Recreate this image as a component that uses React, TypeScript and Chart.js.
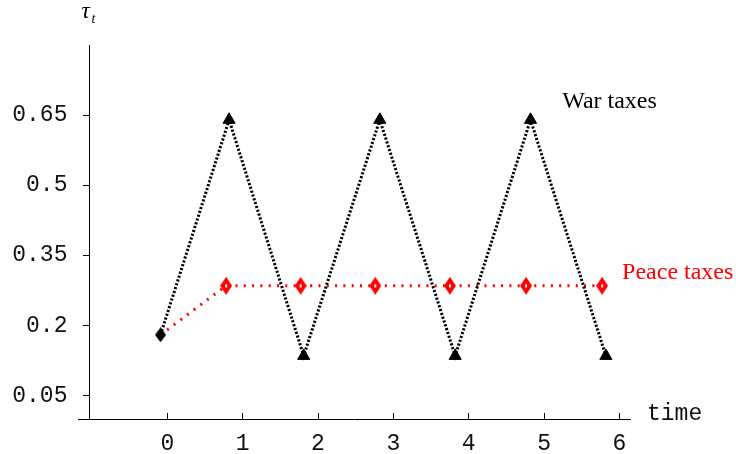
import React, { useEffect, useRef } from "react";
import { Chart, registerables } from "chart.js";

Chart.register(...registerables);

// ---- data ----
const warTime = [-0.09, 0.82, 1.81, 2.82, 3.82, 4.82, 5.82];
const warTax = [0.18, 0.64, 0.135, 0.64, 0.135, 0.64, 0.135];
const peaceTime = [-0.09, 0.78, 1.77, 2.76, 3.75, 4.76, 5.77];
const peaceTax = [0.18, 0.285, 0.285, 0.285, 0.285, 0.285, 0.285];
const xTickValues = [0, 1, 2, 3, 4, 5, 6];
const yTickValues = [0.05, 0.2, 0.35, 0.5, 0.65];
const yTickLabels = ["0.05", "0.2", "0.35", "0.5", "0.65"];
const warLabel = "War taxes";
const peaceLabel = "Peace taxes";
const xAxisTitle = "time";

const Y_LABEL_SHIFT = 22;

function makeDiamond(w: number, h: number, fill: string, inner: boolean) {
  const c = document.createElement("canvas");
  c.width = w;
  c.height = h;
  const ctx = c.getContext("2d")!;
  ctx.fillStyle = fill;
  ctx.beginPath();
  ctx.moveTo(w / 2, 0);
  ctx.lineTo(w, h / 2);
  ctx.lineTo(w / 2, h);
  ctx.lineTo(0, h / 2);
  ctx.closePath();
  ctx.fill();
  if (inner) {
    ctx.fillStyle = "#fff";
    ctx.fillRect(w / 2 - 1, h / 2 - 1.5, 2, 3);
  }
  return c;
}

const labelsPlugin = {
  id: "labelsPlugin",
  afterDraw(chart: any) {
    const { ctx, scales } = chart;
    const xs = scales.x;
    const ys = scales.y;
    ctx.save();
    ctx.textAlign = "left";
    ctx.textBaseline = "alphabetic";
    const yAxisX = xs.getPixelForValue(-1.033);
    ctx.fillStyle = "#000";
    ctx.font = 'italic 23px "Liberation Serif"';
    ctx.fillText("\u03c4", yAxisX - 8, 18);
    ctx.font = 'italic 14px "Liberation Serif"';
    ctx.fillText("t", yAxisX + 2, 23);
    ctx.font = '23px "Liberation Mono"';
    ctx.fillStyle = "#111";
    ctx.fillText(xAxisTitle, chart.chartArea.right + 17, chart.chartArea.bottom + 1);
    ctx.font = '24px "Liberation Serif"';
    ctx.fillStyle = "#000";
    ctx.fillText(warLabel, xs.getPixelForValue(5.24), ys.getPixelForValue(0.666));
    ctx.fillStyle = "#ff0000";
    ctx.fillText(peaceLabel, xs.getPixelForValue(6.035), ys.getPixelForValue(0.3));
    ctx.restore();
  },
};

export default function App() {
  const ref = useRef<HTMLCanvasElement | null>(null);

  useEffect(() => {
    if (!ref.current) return;
    const blackDiamond = makeDiamond(11, 15, "#000", false);
    const redDiamond = makeDiamond(12, 18, "#ff0000", true);
    const warStyles = warTime.map((_, i) => (i === 0 ? blackDiamond : "triangle"));
    const peaceRadius = peaceTime.map((_, i) => (i === 0 ? 0 : 7));

    const chart = new Chart(ref.current, {
      type: "scatter",
      data: {
        datasets: [
          {
            label: warLabel,
            data: warTime.map((x, i) => ({ x, y: warTax[i] })),
            showLine: true,
            borderColor: "#000",
            borderWidth: 3,
            borderDash: [2.2, 1.8],
            tension: 0,
            pointStyle: warStyles as any,
            pointRadius: 7,
            pointBackgroundColor: "#000",
            pointBorderColor: "#000",
            pointBorderWidth: 1,
            order: 0,
          },
          {
            label: peaceLabel,
            data: peaceTime.map((x, i) => ({ x, y: peaceTax[i] })),
            showLine: true,
            borderColor: "#ff0000",
            borderWidth: 3,
            borderDash: [2, 6.3],
            tension: 0,
            pointStyle: redDiamond as any,
            pointRadius: peaceRadius,
            pointBackgroundColor: "#ff0000",
            pointBorderColor: "#ff0000",
            order: 1,
          },
        ],
      },
      options: {
        animation: false,
        responsive: false,
        devicePixelRatio: 1,
        layout: { padding: { left: 78, right: 106, top: 45, bottom: 0 } },
        plugins: { legend: { display: false }, tooltip: { enabled: false } },
        scales: {
          x: {
            type: "linear",
            position: "bottom",
            min: -1.185,
            max: 6.14,
            afterBuildTicks: (s: any) => {
              s.ticks = xTickValues.map((v) => ({ value: v }));
            },
            afterFit: (s: any) => {
              s.height = 35;
            },
            grid: {
              drawOnChartArea: false,
              drawTicks: true,
              tickLength: -6,
              color: "#000",
              tickColor: "#000",
            },
            border: { display: true, color: "#000", width: 1 },
            ticks: {
              padding: 17,
              color: "#111",
              autoSkip: false,
              maxRotation: 0,
              font: { family: '"Liberation Mono"', size: 23 },
              callback: (v: any) => String(v),
            },
          },
          y: {
            type: "linear",
            position: { x: -1.033 } as any,
            min: 0,
            max: 0.8,
            afterBuildTicks: (s: any) => {
              s.ticks = yTickValues.map((v) => ({ value: v }));
            },
            afterUpdate: (s: any) => {
              if (!s.__shifted) {
                const orig = s.drawLabels.bind(s);
                s.drawLabels = (area: any) => {
                  s.ctx.save();
                  s.ctx.translate(-Y_LABEL_SHIFT, 0);
                  orig(area);
                  s.ctx.restore();
                };
                s.__shifted = true;
              }
            },
            grid: {
              drawOnChartArea: false,
              drawTicks: true,
              tickLength: 6,
              color: "#000",
              tickColor: "#000",
            },
            border: { display: true, color: "#000", width: 1 },
            ticks: {
              padding: 15,
              color: "#111",
              autoSkip: false,
              font: { family: '"Liberation Mono"', size: 23 },
              callback: (v: any) => {
                const i = yTickValues.findIndex((t) => Math.abs(t - v) < 1e-9);
                return i >= 0 ? yTickLabels[i] : "";
              },
            },
          },
        },
      },
      plugins: [labelsPlugin],
    } as any);
    return () => chart.destroy();
  }, []);

  return (
    <div style={{ position: "absolute", left: 0, top: 0, width: 736, height: 454, background: "#fff" }}>
      <canvas ref={ref} width={736} height={454} style={{ display: "block" }} />
    </div>
  );
}
